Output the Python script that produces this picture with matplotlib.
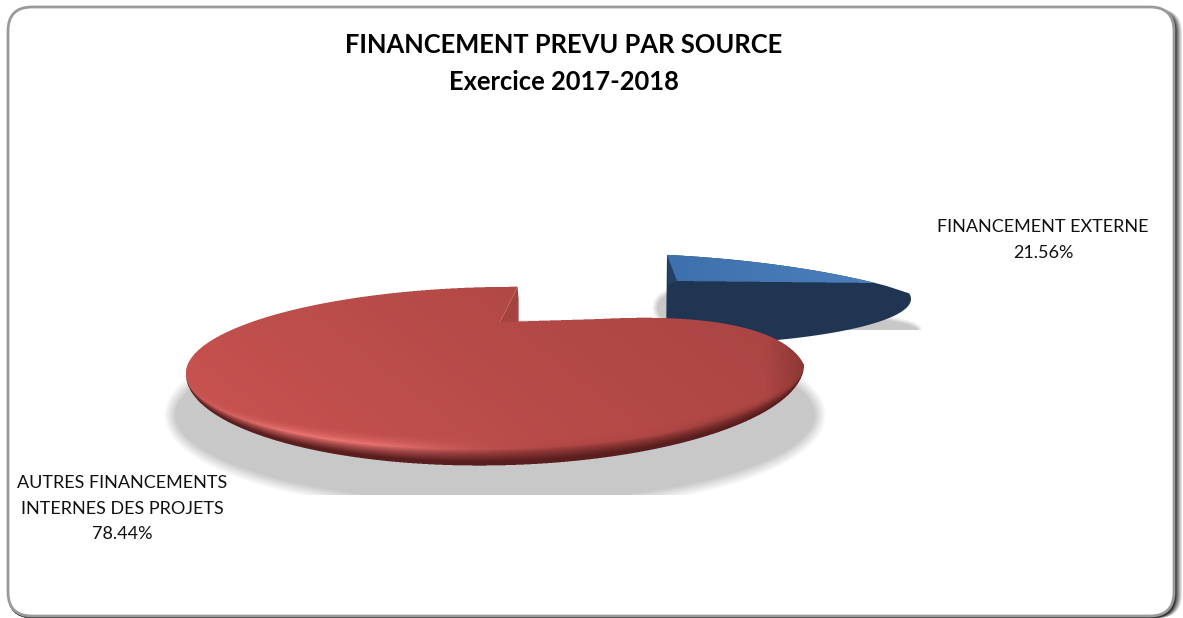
import numpy as np
import matplotlib
matplotlib.use('Agg')
import matplotlib.pyplot as plt
from matplotlib.path import Path
from matplotlib.patches import FancyBboxPatch

plt.rcParams['font.family'] = ['Lato', 'DejaVu Sans']

# Data
title_lines = ['FINANCEMENT PREVU PAR SOURCE', 'Exercice 2017-2018']
blue_label = 'FINANCEMENT EXTERNE'
red_label = 'AUTRES FINANCEMENTS\nINTERNES DES PROJETS'
blue_share = 21.56
red_share = 78.44

fig = plt.figure(figsize=(11.83, 6.18), dpi=100)
ax = fig.add_axes([0, 0, 1, 1])


def hexrgb(c):
    return np.array(matplotlib.colors.to_rgb(c))


def mix(a, b, t):
    t = np.clip(t, 0, 1)[..., None]
    return a * (1 - t) + b * t


# perspective view of the unit circle, one set of parameters per slice
def project(a_deg, view):
    cx, cy, A, B, S, T, k, rot = view
    a = np.radians(a_deg + rot)
    u, v = np.cos(a), np.sin(a)
    w = 1 + k * v
    return cx + (A * u + S * v) / w, cy - (B * v + T * u) / w


def paint(polys, x0, x1, y0, y1, shade, zorder):
    # shade per pixel, 3x oversampled so the edges stay soft
    n = 3
    xs = np.arange(x0, x1, 1 / n) + 1 / (2 * n)
    ys = np.arange(y0, y1, 1 / n) + 1 / (2 * n)
    gx, gy = np.meshgrid(xs, ys)
    pts = np.column_stack([gx.ravel(), gy.ravel()])
    mask = np.zeros(gx.size, dtype=bool)
    for p in polys:
        mask |= Path(p).contains_points(pts)
    mask = mask.reshape(gx.shape).astype(float)
    h, w = mask.shape
    alpha = mask[:h // n * n, :w // n * n].reshape(h // n, n, w // n, n).mean(axis=(1, 3))
    px, py = np.meshgrid(np.arange(x0, x1) + .5, np.arange(y0, y1) + .5)
    rgb = shade(px, py)
    ax.imshow(np.dstack([rgb, alpha]), extent=(x0, x1, y1, y0), zorder=zorder,
              interpolation='bilinear', aspect='auto')


def soft_ellipse(cx, cy, a, b, soft, x0, x1, y0, y1, zorder, color='#c8c8c8'):
    px, py = np.meshgrid(np.arange(x0, x1) + .5, np.arange(y0, y1) + .5)
    dx, dy = px - cx, py - cy
    r = np.sqrt((dx / a) ** 2 + (dy / b) ** 2) + 1e-6
    grad = np.sqrt((dx / a ** 2) ** 2 + (dy / b ** 2) ** 2) / r + 1e-9
    alpha = np.clip(.5 - (r - 1) / grad / soft, 0, 1)
    rgb = np.ones(px.shape + (3,)) * hexrgb(color)
    ax.imshow(np.dstack([rgb, alpha]), extent=(x0, x1, y1, y0), zorder=zorder,
              interpolation='bilinear', aspect='auto')


# Frame with its dark edge on the right
fx, fy, fw, fh = 8, 7, 1166, 609
for i in range(9, 0, -1):
    g = str(min(1, ((i - 1) / 8) ** 0.8))
    ax.add_patch(FancyBboxPatch((fx + 10, fy + 12), fw - 20 + i, fh - 22 + min(i, 2),
                                boxstyle='round,pad=10,rounding_size=24', fc=g, ec='none', zorder=1))
ax.add_patch(FancyBboxPatch((fx + 10, fy + 10), fw - 20, fh - 20,
                            boxstyle='round,pad=10,rounding_size=24', fc='white', ec='#9a9a9a', lw=2, zorder=2))

# Shadows on the floor
soft_ellipse(495, 415, 325, 93, 12, 160, 830, 320, 495, 3)
soft_ellipse(787, 330, 133, 18, 5, 650, 925, 300, 330, 3)
soft_ellipse(672, 308, 17, 16, 6, 650, 690, 285, 330, 3)

# Blue slice, start at the top and going clockwise
blue_view = (677, 281, 231, 41, -15.7, -11.3, 0.57, 0)
blue_end = 90 - blue_share * 3.6
a_top = np.linspace(90, blue_end, 80)
bx, by = project(a_top, blue_view)
apex_blue = np.array([blue_view[0], blue_view[1]])
blue_top = np.vstack([np.column_stack([bx, by]), apex_blue])

a_rim = np.linspace(90, 8, 120)
rx, ry = project(a_rim, blue_view)
a_low = np.radians(np.linspace(7, -90, 70))
lx = 666 + 245 * np.cos(a_low)
ly = 299 - 46 * np.sin(a_low)
blue_side = np.vstack([np.column_stack([rx, ry]), np.column_stack([lx, ly])])
ax.fill(blue_side[:, 0], blue_side[:, 1], color='#1f3552', lw=0, zorder=4)
ax.fill([bx[0], apex_blue[0], bx[0] + 1], [by[0], apex_blue[1], apex_blue[1] + 4],
        color='#234066', lw=0, zorder=4)


def blue_shade(px, py):
    return mix(hexrgb('#3d70ac'), hexrgb('#4c80bc'), (px - 670) / 200)


paint([blue_top], 660, 885, 250, 290, blue_shade, 5)

# Red slice, going on from the end of the blue one
red_view = (495, 322, 254, 55, 0, 4, 0.57, -8)
red_start = 90
red_end = red_start + red_share * 3.6
a_red = np.linspace(red_start, red_end, 500)
qx, qy = project(a_red, red_view)
apex_red = np.array([500, 322])

# the corner at the end of the slice is rounded off in the chart
corner = np.array(project(red_end, red_view))
p0 = np.array(project(red_end - 40, red_view))
c1 = p0 + [-14, -30]
c2 = corner + [-7, -2]
p3 = apex_red + [100, -3]
t = np.linspace(0, 1, 60)[:, None]
round_off = (1 - t) ** 3 * p0 + 3 * (1 - t) ** 2 * t * c1 + 3 * (1 - t) * t ** 2 * c2 + t ** 3 * p3

keep = a_red <= red_end - 40
red_top = np.vstack([np.column_stack([qx[keep], qy[keep]]), round_off, apex_red])

il, ir = np.argmin(qx), np.argmax(qx)
low_x, low_y = qx[il:ir + 1], qy[il:ir + 1]
mid_x = (low_x[0] + low_x[-1]) / 2
half_x = (low_x[-1] - low_x[0]) / 2
depth = 15


# thickness of the rim goes to nothing at the far left and right
def rim_depth(x):
    return depth * np.sqrt(np.clip(1 - ((x - mid_x) / half_x) ** 2, 0, 1)) + .5


red_low = np.column_stack([low_x, low_y + rim_depth(low_x)])


def red_shade(px, py):
    rim = np.interp(px, low_x, low_y)
    d = rim_depth(px)
    s = (py - rim) / d
    f = ((px - 186) / 620) * .75 + ((450 - py) / 160) * .25
    rgb = mix(hexrgb('#cf5653'), hexrgb('#a84442'), np.clip(f, 0, 1) ** .7)
    rgb = mix(rgb, hexrgb('#7a2e2d'), (px - 765) / 45 * .7)
    glow = np.exp(-((px - 350) / 110) ** 2)
    hi = mix(hexrgb('#b04745'), hexrgb('#ea7472'), glow + .3 * (px < 350))
    fade = np.clip((770 - px) / 120, 0, 1)
    hi = mix(hexrgb('#8a3533'), hi, fade)
    top = mix(rgb, hi, np.clip((s + 1) / .95, 0, 1) ** 2)
    side = mix(hi, hexrgb('#5a1e1f'), np.clip((s + .05) / .8, 0, 1) ** .8)
    return np.where((s > -.05)[..., None], side, top)


paint([red_top, red_low], 175, 815, 280, 470, red_shade, 7)
ax.fill([apex_red[0], qx[0], qx[0] + 1, qx[0] + 1], [apex_red[1], qy[0], qy[0] + 12, apex_red[1]],
        color='#a54341', lw=0, zorder=6)

# Texts
ax.text(564, 45, title_lines[0], ha='center', va='center', fontsize=18.4, fontweight='bold', color='black', zorder=9)
ax.text(564, 82, title_lines[1], ha='center', va='center', fontsize=18.4, fontweight='bold', color='black', zorder=9)
ax.text(1043, 240, f'{blue_label}\n{blue_share:.2f}%', ha='center', va='center', fontsize=13,
        linespacing=1.7, color='#111111', zorder=9)
ax.text(122, 508.5, f'{red_label}\n{red_share:.2f}%', ha='center', va='center', fontsize=13,
        linespacing=1.7, color='#111111', zorder=9)

ax.set_xlim(0, 1183)
ax.set_ylim(618, 0)
ax.axis('off')
fig.savefig('out.png', dpi=100, facecolor='white')
